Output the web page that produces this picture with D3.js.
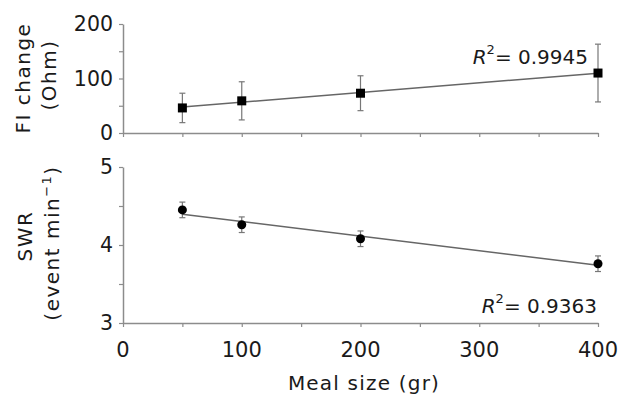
<!DOCTYPE html>
<html>
<head>
<meta charset="utf-8">
<script src="https://cdn.jsdelivr.net/npm/d3@7"></script>
<style>
  body { margin: 0; background: #fff; }
  text { font-family: "DejaVu Sans", Verdana, sans-serif; fill: #1a1a1a; }
</style>
</head>
<body>
<script>
// meal sizes (gr)
const mealSize = [50, 100, 200, 400];
// top panel: FI change (Ohm), mean and error
const fiChange = [46, 59, 73, 110];
const fiErr = [27, 35, 32, 53];
// bottom panel: SWR (event/min), mean and error
const swr = [4.45, 4.26, 4.08, 3.76];
const swrErr = [0.1, 0.1, 0.1, 0.1];
const r2Labels = ['0.9945', '0.9363'];

const xTicks = [0, 50, 100, 150, 200, 250, 300, 350, 400];
const xLabels = [0, 100, 200, 300, 400];
const fiTicks = [0, 50, 100, 150, 200];
const fiLabels = [0, 100, 200];
const swrTicks = [3, 3.5, 4, 4.5, 5];
const swrLabels = [3, 4, 5];

const W = 631, H = 404;
const axisCol = '#8c8c8c';

const svg = d3.select('body').append('svg')
  .attr('width', W)
  .attr('height', H);

const x = d3.scaleLinear().domain([0, 400]).range([123, 598]);
const yTop = d3.scaleLinear().domain([0, 200]).range([133, 24]);
const yBot = d3.scaleLinear().domain([3, 5]).range([323, 167]);

// least squares fit
function fit(xs, ys) {
  const mx = d3.mean(xs), my = d3.mean(ys);
  let sxy = 0, sxx = 0;
  xs.forEach((v, i) => { sxy += (v - mx) * (ys[i] - my); sxx += (v - mx) * (v - mx); });
  const b = sxy / sxx;
  return v => my + b * (v - mx);
}

function styleAxis(g) {
  g.select('.domain').attr('stroke', axisCol).attr('stroke-width', 1.5);
  g.selectAll('.tick line').attr('stroke', axisCol).attr('stroke-width', 1.2);
  g.selectAll('.tick text').attr('font-size', 20.5).attr('fill', '#1a1a1a');
}

function panel(y, vals, errs, yTicks, yLabels, fmt, marker) {
  // x axis (bottom of panel)
  const xa = svg.append('g')
    .attr('transform', 'translate(0,' + y.range()[0] + ')')
    .call(d3.axisBottom(x).tickValues(xTicks).tickSize(4).tickSizeOuter(0)
      .tickFormat(d => ''));
  styleAxis(xa);

  // y axis
  const ya = svg.append('g')
    .attr('transform', 'translate(' + x.range()[0] + ',0)')
    .call(d3.axisLeft(y).tickValues(yTicks).tickSize(4).tickSizeOuter(0).tickPadding(6)
      .tickFormat(d => yLabels.includes(d) ? fmt(d) : ''));
  styleAxis(ya);

  // regression line
  const f = fit(mealSize, vals);
  svg.append('line')
    .attr('x1', x(mealSize[0])).attr('y1', y(f(mealSize[0])))
    .attr('x2', x(mealSize[mealSize.length - 1])).attr('y2', y(f(mealSize[mealSize.length - 1])))
    .attr('stroke', '#666')
    .attr('stroke-width', 1.5);

  // error bars
  const eb = svg.append('g').attr('stroke', '#777').attr('stroke-width', 1.2);
  mealSize.forEach((m, i) => {
    const cx = x(m);
    eb.append('line').attr('x1', cx).attr('x2', cx)
      .attr('y1', y(vals[i] - errs[i])).attr('y2', y(vals[i] + errs[i]));
    [vals[i] - errs[i], vals[i] + errs[i]].forEach(v => {
      eb.append('line').attr('x1', cx - 3).attr('x2', cx + 3)
        .attr('y1', y(v)).attr('y2', y(v));
    });
  });

  // markers
  if (marker === 'square') {
    svg.append('g').selectAll('rect')
      .data(mealSize)
      .join('rect')
      .attr('x', (d) => x(d) - 4.5)
      .attr('y', (d, i) => y(vals[i]) - 4.5)
      .attr('width', 9)
      .attr('height', 9)
      .attr('fill', '#000');
  } else {
    svg.append('g').selectAll('circle')
      .data(mealSize)
      .join('circle')
      .attr('cx', (d) => x(d))
      .attr('cy', (d, i) => y(vals[i]))
      .attr('r', 4.5)
      .attr('fill', '#000');
  }
}

panel(yTop, fiChange, fiErr, fiTicks, fiLabels, d3.format('d'), 'square');
panel(yBot, swr, swrErr, swrTicks, swrLabels, d3.format('d'), 'circle');

// x tick labels under the bottom panel
svg.append('g').selectAll('text')
  .data(xLabels)
  .join('text')
  .attr('x', d => x(d))
  .attr('y', 357)
  .attr('text-anchor', 'middle')
  .attr('font-size', 21)
  .text(d => d);

// x title
svg.append('text')
  .attr('x', 364)
  .attr('y', 390)
  .attr('text-anchor', 'middle')
  .attr('font-size', 20)
  .attr('letter-spacing', 1.2)
  .text('Meal size (gr)');

// y titles
function yTitle(cx, cy, str) {
  return svg.append('text')
    .attr('transform', 'translate(' + cx + ',' + cy + ') rotate(-90)')
    .attr('text-anchor', 'middle')
    .attr('font-size', 20)
    .attr('letter-spacing', 1.5)
    .text(str);
}
yTitle(30, 78, 'FI change');
yTitle(56, 75, '(Ohm)');
yTitle(32, 236, 'SWR');
const ev = yTitle(59, 243, '(event min');
ev.append('tspan').attr('font-size', 13).attr('dy', -8).text('\u22121');
ev.append('tspan').attr('dy', 8).text(')');

// R squared labels
function r2(xEnd, yBase, val) {
  const t = svg.append('text')
    .attr('x', xEnd)
    .attr('y', yBase)
    .attr('text-anchor', 'end')
    .attr('font-size', 20);
  t.append('tspan').attr('font-style', 'italic').text('R');
  t.append('tspan').attr('font-size', 13).attr('dy', -10).text('2');
  t.append('tspan').attr('dy', 10).text('= ' + val);
}
r2(588, 64, r2Labels[0]);
r2(597, 313, r2Labels[1]);
</script>
</body>
</html>
